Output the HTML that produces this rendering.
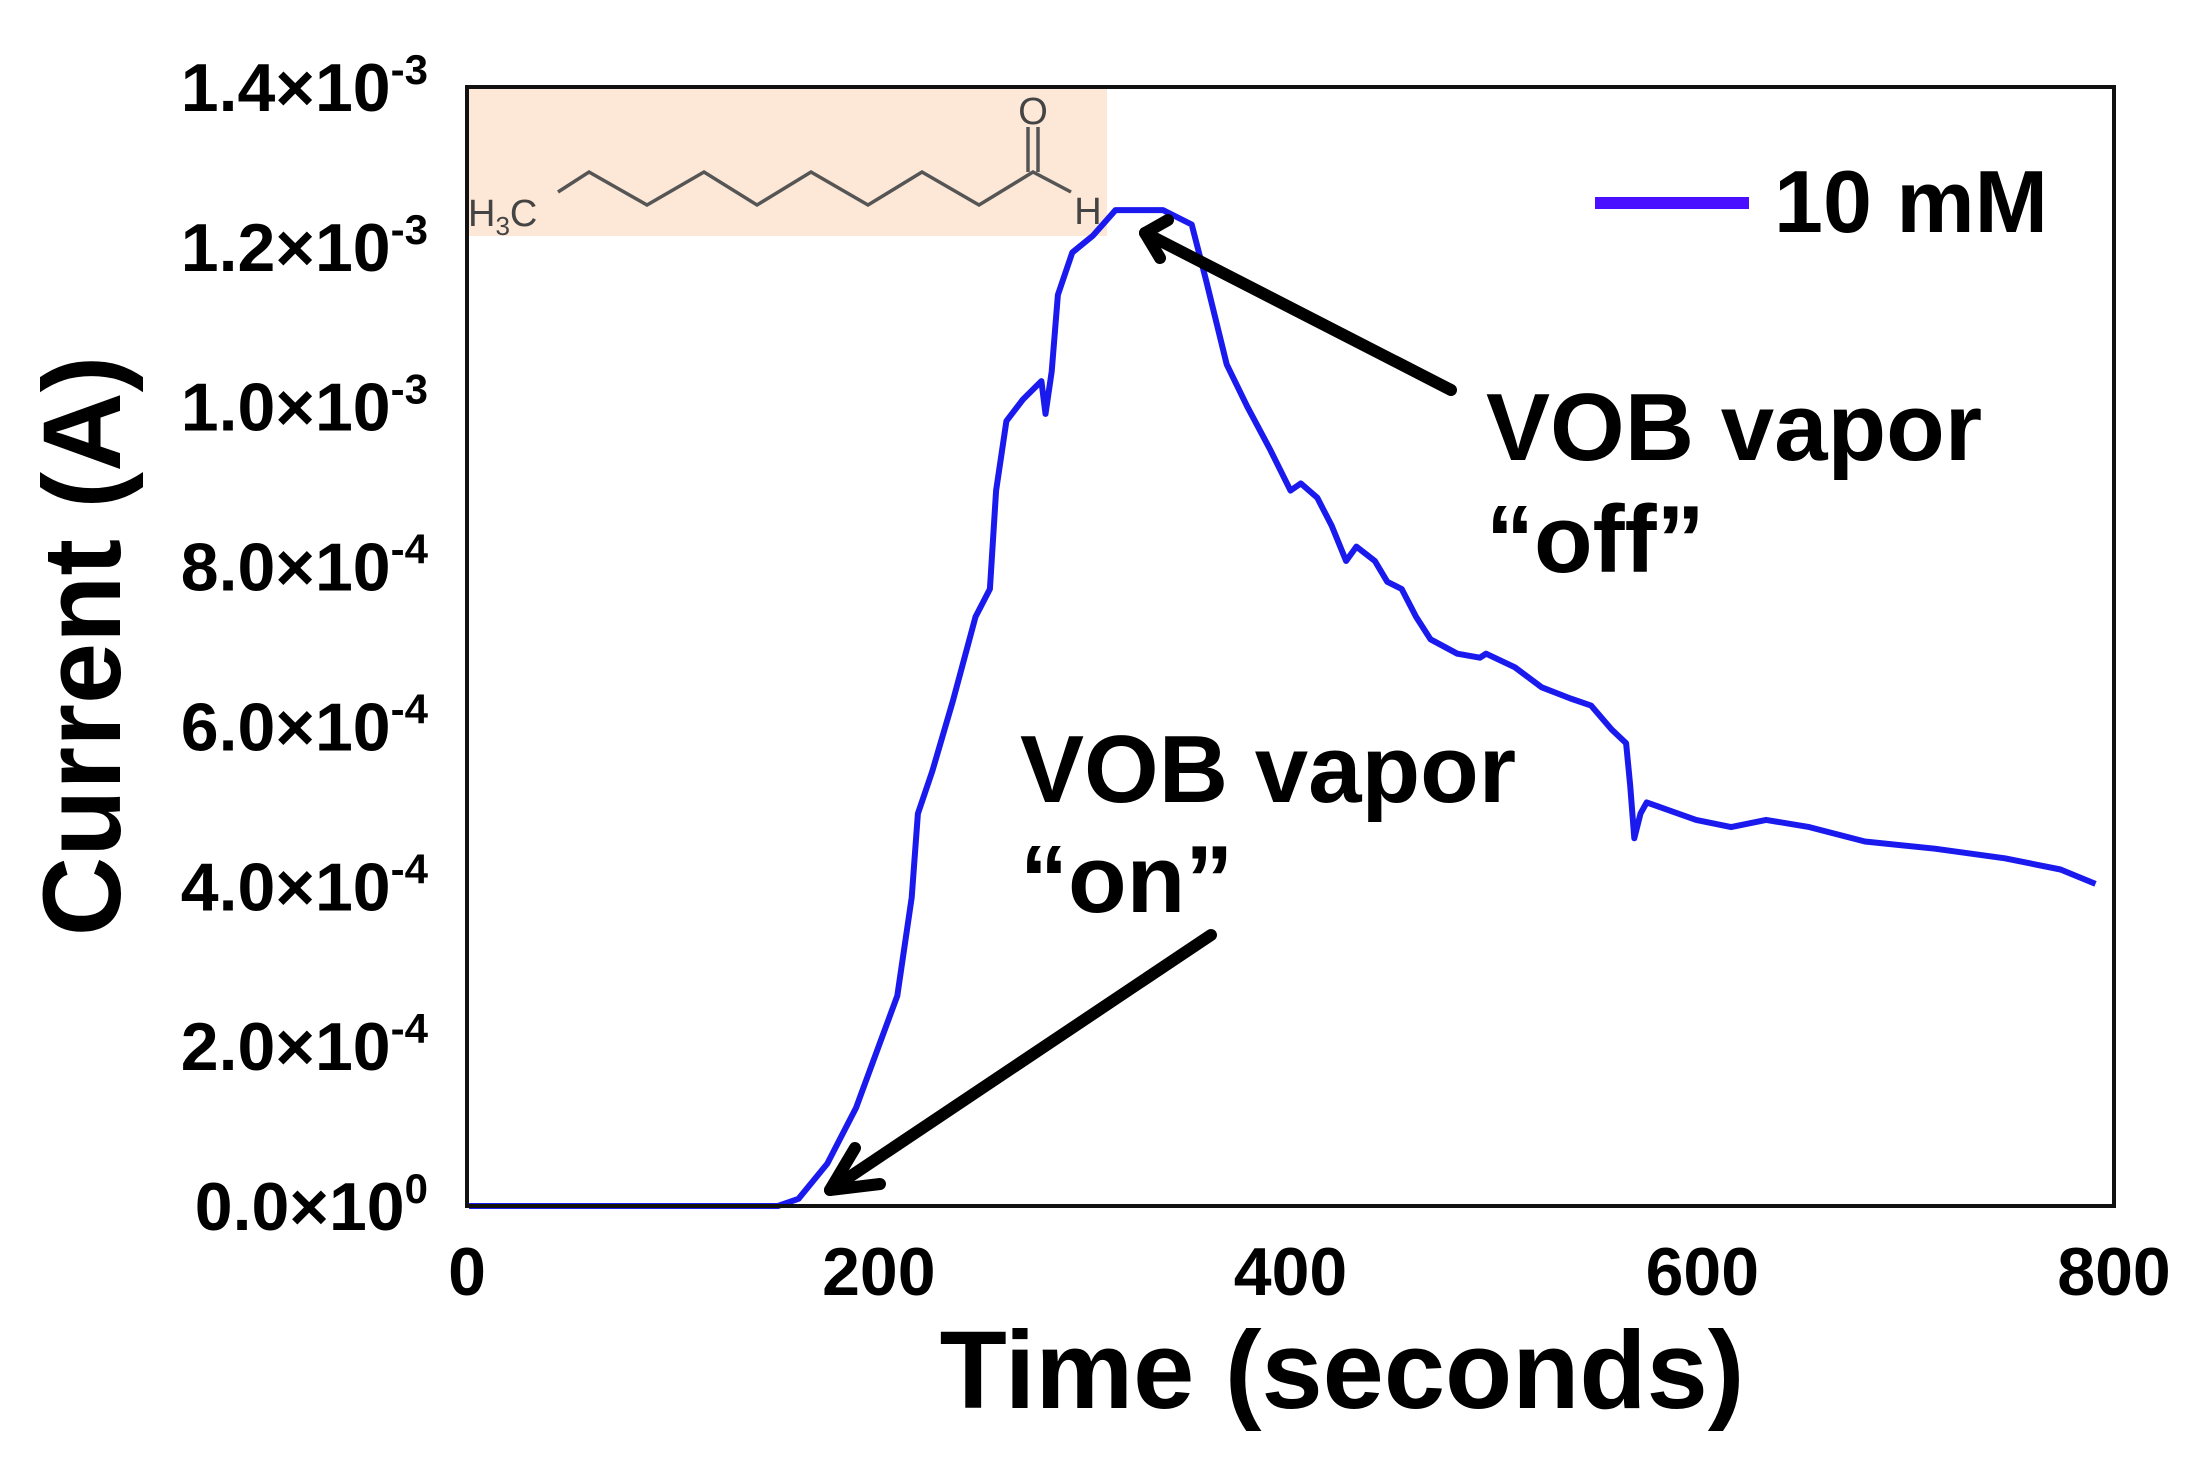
<!DOCTYPE html>
<html><head><meta charset="utf-8"><style>
html,body{margin:0;padding:0;background:#fff;}
svg{display:block;font-family:"Liberation Sans",Arial,sans-serif;font-weight:bold;}
</style></head><body>
<svg id="chart" width="2198" height="1467" viewBox="0 0 2198 1467">
<rect x="467" y="87" width="640" height="149" fill="#fde7d6"/>
<g fill="none" stroke="#555" stroke-width="3.5">
<polyline points="558,192 589,172 647,205 704,172 757,205 811,172 868,205 922,172 979,205 1033,172 1071,192"/>
<line x1="1028" y1="127" x2="1028" y2="172"/><line x1="1038" y1="127" x2="1038" y2="172"/>
</g>
<text x="1033" y="124" font-size="38" font-weight="normal" fill="#444" text-anchor="middle">O</text>
<text x="1088" y="224" font-size="38" font-weight="normal" fill="#444" text-anchor="middle">H</text>
<text x="468" y="226" font-size="38" font-weight="normal" fill="#444">H<tspan font-size="26" dy="9">3</tspan><tspan dy="-9">C</tspan></text>
<g id="plot"></g>
<rect x="467" y="87" width="1647" height="1119" fill="none" stroke="#111" stroke-width="4"/>
<g id="yticks"></g><g id="xticks"></g>
<text x="1342" y="1408" font-size="110" text-anchor="middle">Time (seconds)</text>
<text transform="translate(120,646) rotate(-90)" font-size="110" text-anchor="middle">Current (A)</text>
<line x1="1595" y1="203" x2="1749" y2="203" stroke="#4b0fff" stroke-width="12"/>
<text x="1774" y="232" font-size="88">10 mM</text>
<text x="1486" y="460" font-size="96">VOB vapor</text>
<text x="1486" y="572" font-size="96">“off”</text>
<text x="1020" y="802" font-size="96">VOB vapor</text>
<text x="1020" y="912" font-size="96">“on”</text>
<g stroke="#000" stroke-width="12" fill="none" stroke-linecap="round" stroke-linejoin="round">
<g><line x1="1451" y1="390" x2="1145" y2="233"/><polyline points="1168,220 1145,233 1160,258"/></g>
<g><line x1="1211" y1="935" x2="830" y2="1190"/><polyline points="855,1148 830,1190 880,1184"/></g>
</g>
</svg>
<script>
const times=[1,46,100,151,161,175,189,199,209,216,219,226,236,247,254,257,262,270,279,281,284,287,294,304,315,325,338,352,359,369,379,390,400,405,413,420,427,432,441,447,454,461,468,481,492,495,509,522,536,546,556,563,565,567,570,573,584,597,614,631,652,679,713,747,774,791];
const currentMA=[0,0,0,0,0.009,0.053,0.123,0.193,0.263,0.386,0.491,0.544,0.632,0.737,0.772,0.895,0.982,1.009,1.032,0.991,1.044,1.140,1.193,1.214,1.246,1.246,1.246,1.228,1.158,1.053,1.000,0.947,0.895,0.904,0.886,0.851,0.807,0.825,0.807,0.781,0.772,0.737,0.709,0.691,0.686,0.691,0.674,0.649,0.635,0.626,0.596,0.579,0.526,0.460,0.491,0.505,0.495,0.483,0.474,0.483,0.474,0.456,0.447,0.435,0.421,0.403];
const yTickVals=[0,0.2,0.4,0.6,0.8,1.0,1.2,1.4];
const yTickMant=["0.0","2.0","4.0","6.0","8.0","1.0","1.2","1.4"];
const yTickExp=["0","-4","-4","-4","-4","-3","-3","-3"];
const xTickVals=[0,200,400,600,800];
const NS="http://www.w3.org/2000/svg";
const X=t=>467+t/800*1647;
const Y=v=>1206-v/1.4*1119;
const plot=document.getElementById('plot');
const path=document.createElementNS(NS,'path');


let d='';times.forEach((t,i)=>{d+=(i?'L':'M')+X(t).toFixed(1)+','+Y(currentMA[i]).toFixed(1);});
path.setAttribute('d',d);path.setAttribute('fill','none');path.setAttribute('stroke','#1a1aee');path.setAttribute('stroke-width','6');path.setAttribute('stroke-linejoin','round');
plot.appendChild(path);
const yg=document.getElementById('yticks');
yTickVals.forEach((v,i)=>{const t=document.createElementNS(NS,'text');


t.setAttribute('x','428');t.setAttribute('y',(Y(v)+24).toFixed(1));t.setAttribute('font-size','68');t.setAttribute('text-anchor','end');
t.innerHTML=yTickMant[i]+'×10<tspan font-size="42" dy="-27">'+yTickExp[i]+'</tspan>';yg.appendChild(t);});
const xg=document.getElementById('xticks');
xTickVals.forEach(v=>{const t=document.createElementNS(NS,'text');


t.setAttribute('x',X(v).toFixed(1));t.setAttribute('y','1295');t.setAttribute('font-size','68');t.setAttribute('text-anchor','middle');
t.textContent=v;xg.appendChild(t);});
</script>
</body></html>
